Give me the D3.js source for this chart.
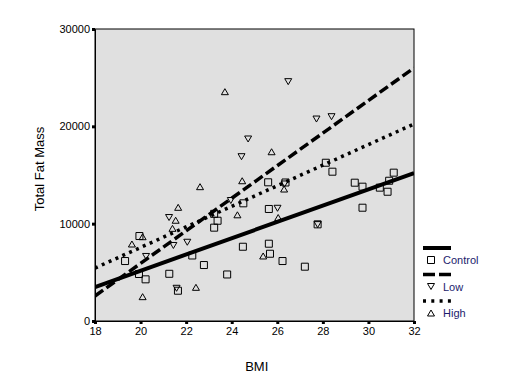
<!DOCTYPE html>
<html>
<head>
<meta charset="utf-8">
<script src="https://cdn.jsdelivr.net/npm/d3@7"></script>
<style>
  body { margin: 0; background: #fff; }
  text { font-family: "Liberation Sans", Arial, sans-serif; }
</style>
</head>
<body>
<div id="chart-area"></div>
<script>
// groups
var groups = ["Control", "Low", "High"];

// BMI / total fat mass
var controlBmi = [28.13, 28.42, 31.11, 30.91, 29.40, 29.74, 30.50, 30.84, 29.74, 25.60, 26.36,
    25.63, 27.77, 25.63, 25.68, 26.23, 27.21, 24.51, 23.23, 23.38, 23.23, 24.49, 23.80, 22.78,
    22.27, 21.26, 21.64, 19.95, 19.32, 19.93, 20.22];
var controlFat = [16260, 15340, 15240, 14410, 14210, 13800, 13700, 13280, 11640, 14250, 14230,
    11510, 9930, 7940, 6910, 6160, 5580, 12090, 11010, 10300, 9590, 7630, 4780, 5750,
    6730, 4850, 3110, 8730, 6160, 4830, 4280];

var lowBmi = [26.48, 27.72, 28.38, 24.72, 24.43, 23.96, 26.32, 26.01, 21.25, 22.05, 21.44, 20.24, 21.58, 27.77];
var lowFat = [24590, 20750, 20990, 18700, 16880, 12380, 14080, 11580, 10630, 8090, 7760, 6630, 3360, 9900];

var highBmi = [23.70, 25.75, 22.61, 24.46, 21.65, 21.54, 24.25, 21.40, 20.09, 19.62, 26.30, 26.04, 25.38, 22.43, 20.09];
var highFat = [23560, 17390, 13800, 14410, 11680, 10350, 10910, 9520, 8660, 7910, 13560, 10630, 6680, 3460, 2500];

// fitted lines: value at BMI 18 and at BMI 32
var fitBmi = [18, 32];
var controlFit = [3490, 15200];
var lowFit = [2570, 26000];
var highFit = [5440, 20240];

var xTicks = [18, 20, 22, 24, 26, 28, 30, 32];
var yTicks = [0, 10000, 20000, 30000];

var margin = { left: 95, right: 106, top: 29, bottom: 59 };
var width = 520 - margin.left - margin.right,
    height = 380 - margin.top - margin.bottom;

var svg = d3.select("#chart-area")
    .append("svg")
        .attr("width", 520)
        .attr("height", 380);

var g = svg.append("g")
    .attr("transform", "translate(" + margin.left + ", " + margin.top + ")");

var x = d3.scaleLinear().domain([18, 32]).range([0, width]);
var y = d3.scaleLinear().domain([0, 30000]).range([height, 0]);

// plot background
g.append("rect")
    .attr("width", width)
    .attr("height", height)
    .attr("fill", "#e0e0e0")
    .attr("stroke", "#000")
    .attr("stroke-width", 1);

// axes
var xAxis = g.append("g")
    .attr("transform", "translate(0," + height + ")")
    .call(d3.axisBottom(x).tickValues(xTicks).tickSize(3).tickPadding(3).tickFormat(d3.format("d")));
var yAxis = g.append("g")
    .call(d3.axisLeft(y).tickValues(yTicks).tickSize(3).tickPadding(2).tickFormat(function(d){ return d; }));

[xAxis, yAxis].forEach(function(a) {
    a.select(".domain").attr("stroke", "#000");
    a.selectAll(".tick line").attr("stroke", "#000").attr("stroke-width", 3);
    a.selectAll(".tick text")
        .attr("fill", "#000")
        .attr("font-size", "11px")
        .attr("font-family", "'Liberation Sans', Arial, sans-serif");
});

// axis titles
g.append("text")
    .attr("x", x(25.1))
    .attr("y", height + 50)
    .attr("text-anchor", "middle")
    .attr("font-size", "13px")
    .text("BMI");

g.append("text")
    .attr("transform", "rotate(-90)")
    .attr("x", -(y(15000) - 6))
    .attr("y", -51)
    .attr("text-anchor", "middle")
    .attr("font-size", "13px")
    .text("Total Fat Mass");

// markers
function markerPath(kind) {
    if (kind === "Control") return "M-3.5,-3.5H3.5V3.5H-3.5Z";
    if (kind === "Low") return "M-3.5,-3H3.5L0,3Z";
    return "M-3.5,3H3.5L0,-3Z";
}

var pointData = [
    { group: "Control", bmi: controlBmi, fat: controlFat },
    { group: "Low", bmi: lowBmi, fat: lowFat },
    { group: "High", bmi: highBmi, fat: highFat }
];

// fit lines (legend dash a bit longer so it shows two dashes)
var fits = [
    { group: "Control", vals: controlFit, dash: null, legDash: null, w: 4 },
    { group: "Low", vals: lowFit, dash: "10,4", legDash: "12,4", w: 3.5 },
    { group: "High", vals: highFit, dash: "3,4.5", legDash: "3,5.3", w: 3.5 }
];

g.append("clipPath").attr("id", "clip")
    .append("rect").attr("width", width).attr("height", height);

var line = d3.line()
    .x(function(d){ return x(d[0]); })
    .y(function(d){ return y(d[1]); });

pointData.forEach(function(s) {
    g.append("g").selectAll("path")
        .data(s.bmi.map(function(b, i){ return [b, s.fat[i]]; }))
        .enter().append("path")
            .attr("d", markerPath(s.group))
            .attr("transform", function(d){ return "translate(" + x(d[0]) + "," + y(d[1]) + ")"; })
            .attr("fill", "none")
            .attr("stroke", "#000")
            .attr("stroke-width", 1);
});

fits.forEach(function(f) {
    g.append("path")
        .datum(fitBmi.map(function(b, i){ return [b, f.vals[i]]; }))
        .attr("clip-path", "url(#clip)")
        .attr("d", line)
        .attr("fill", "none")
        .attr("stroke", "#000")
        .attr("stroke-width", f.w)
        .attr("stroke-dasharray", f.dash);
});

// legend
var legend = svg.append("g").attr("transform", "translate(423,248)");
fits.forEach(function(f, i) {
    var row = legend.append("g").attr("transform", "translate(0," + (i * 26.5) + ")");
    row.append("line")
        .attr("x1", 0).attr("x2", 28)
        .attr("stroke", "#000")
        .attr("stroke-width", f.w)
        .attr("stroke-dasharray", f.legDash);
    row.append("path")
        .attr("d", markerPath(f.group))
        .attr("transform", "translate(8,12)")
        .attr("fill", "none")
        .attr("stroke", "#000");
    row.append("text")
        .attr("x", 20)
        .attr("y", 16)
        .attr("font-size", "11px")
        .attr("fill", "#1c1c6c")
        .text(groups[i]);
});
</script>
</body>
</html>
